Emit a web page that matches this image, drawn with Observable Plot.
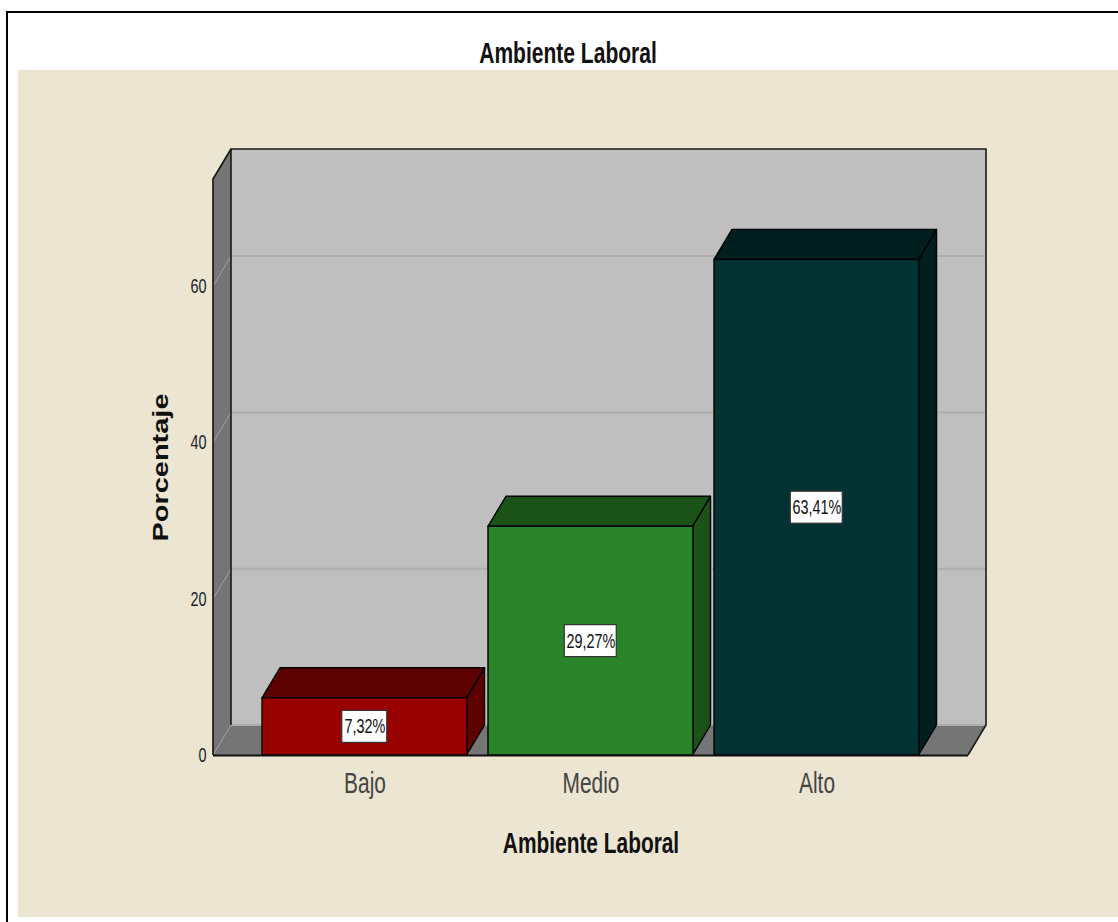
<!DOCTYPE html>
<html lang="es">
<head>
<meta charset="utf-8">
<title>Ambiente Laboral</title>
<script src="https://cdn.jsdelivr.net/npm/d3@7"></script>
<script src="https://cdn.jsdelivr.net/npm/@observablehq/plot@0.6"></script>
<style>
  html, body { margin: 0; padding: 0; background: #fff; }
  #page { position: relative; width: 1118px; height: 922px; overflow: hidden; }
  #rule { position: absolute; left: 6px; top: 11px; right: 0; bottom: 0; border-left: 2px solid #000; border-top: 2px solid #000; }
  #panel { position: absolute; left: 18px; top: 70px; right: 0; height: 847px; background: #ebe5d1; }
  #heading { position: absolute; left: 18px; right: 0; top: 36px; text-align: center; margin: 0;
    font: bold 29px "Liberation Sans", sans-serif; color: #111; line-height: 34px;
    transform: scaleX(0.725); transform-origin: center; }
  #chart { position: absolute; left: 0; top: 0; }
  #chart svg { background: transparent; }
</style>
</head>
<body>
<div id="page">
  <div id="rule"></div>
  <div id="panel"></div>
  <h1 id="heading">Ambiente Laboral</h1>
  <div id="chart"></div>
</div>
<script>
// Percentage of respondents per level of workplace climate
const levels = ["Bajo", "Medio", "Alto"];
const percentages = [7.32, 29.27, 63.41];
const frontColors = ["#990000", "#2a852a", "#033233"];
const shadeColors = ["#5c0000", "#1a5218", "#011f1e"];
const yTicks = [0, 20, 40, 60];
const yMaximum = 73.7;
const axisTitleX = "Ambiente Laboral";
const axisTitleY = "Porcentaje";

// Oblique projection offset of the chart's depth axis, in pixels
const depthX = 18;
const depthY = -30;

// Band layout of the x scale
const paddingInner = 0.095;
const paddingOuter = 0.214;

// Horizontal squeeze of the condensed labels, and the stretched length of the y title
const condensed = 0.72;
const yTitleLength = 148;

const rows = levels.map((level, i) => ({
  level,
  value: percentages[i],
  front: frontColors[i],
  shade: shadeColors[i],
  label: percentages[i].toFixed(2).replace(".", ",") + "%"
}));

const polygon = (parent, points, fill, stroke, strokeWidth) =>
  parent.append("polygon")
    .attr("points", points.map((p) => p.join(",")).join(" "))
    .attr("fill", fill)
    .attr("stroke", stroke)
    .attr("stroke-width", strokeWidth)
    .attr("stroke-linejoin", "round");

const bandwidth = (x) => (x(levels[1]) - x(levels[0])) * (1 - paddingInner);

// Left wall, floor and back wall of the box, with gridlines on the walls
function chartBox(index, {y}, values, {width, marginLeft, marginRight}) {
  const g = d3.create("svg:g");
  const left = marginLeft;
  const right = width - marginRight;
  const base = y(0);
  const top = y(yMaximum);
  polygon(g, [[left + depthX, base + depthY], [right + depthX, base + depthY], [right + depthX, top + depthY], [left + depthX, top + depthY]], "#bfbfbf", "none", 0);
  polygon(g, [[left, base], [left + depthX, base + depthY], [left + depthX, top + depthY], [left, top]], "#757575", "none", 0);
  polygon(g, [[left, base], [right, base], [right + depthX, base + depthY], [left + depthX, base + depthY]], "#757575", "none", 0);
  for (const t of yTicks) {
    g.append("path")
      .attr("d", d3.line()([[left, y(t)], [left + depthX, y(t) + depthY]]))
      .attr("stroke", "#a0a0a0").attr("fill", "none").attr("stroke-width", 1);
    g.append("path")
      .attr("d", d3.line()([[left + depthX, y(t) + depthY], [right + depthX, y(t) + depthY]]))
      .attr("stroke", "#adadad").attr("fill", "none").attr("stroke-width", 2);
  }
  g.append("path")
    .attr("d", d3.line()([[left + depthX, base + depthY], [left + depthX, top + depthY], [right + depthX, top + depthY], [right + depthX, base + depthY], [right, base]]))
    .attr("stroke", "#1a1a1a").attr("fill", "none").attr("stroke-width", 1.6);
  g.append("path")
    .attr("d", d3.line()([[left, base], [left, top], [left + depthX, top + depthY]]))
    .attr("stroke", "#111").attr("fill", "none").attr("stroke-width", 1.6);
  return g.node();
}

// Top and right faces of each bar
function barDepth(index, {x, y}) {
  const g = d3.create("svg:g");
  const w = bandwidth(x);
  for (const row of rows) {
    const x0 = x(row.level);
    const x1 = x0 + w;
    const yBase = y(0);
    const yTop = y(row.value);
    polygon(g, [[x1, yTop], [x1 + depthX, yTop + depthY], [x1 + depthX, yBase + depthY], [x1, yBase]], row.shade, "#000", 1.4);
    polygon(g, [[x0, yTop], [x0 + depthX, yTop + depthY], [x1 + depthX, yTop + depthY], [x1, yTop]], row.shade, "#000", 1.4);
  }
  return g.node();
}

// White boxes behind the value labels, sized from the label length
function labelBoxes(index, {x, y}) {
  const g = d3.create("svg:g");
  const w = bandwidth(x);
  for (const row of rows) {
    const boxWidth = row.label.length * 7 + 10;
    g.append("rect")
      .attr("x", x(row.level) + w / 2 - boxWidth / 2)
      .attr("y", y(row.value / 2) - 16)
      .attr("width", boxWidth)
      .attr("height", 32)
      .attr("fill", "#fff")
      .attr("stroke", "#333")
      .attr("stroke-width", 1.2);
  }
  return g.node();
}

const chart = Plot.plot({
  width: 1118,
  height: 922,
  marginLeft: 213,
  marginRight: 150,
  marginTop: 179,
  marginBottom: 167,
  style: {background: "transparent", fontFamily: `"Liberation Sans", sans-serif`},
  x: {domain: levels, paddingInner, paddingOuter, axis: null},
  y: {domain: [0, yMaximum], axis: null},
  marks: [
    chartBox,
    barDepth,
    Plot.barY(rows, {x: "level", y: "value", fill: "front", stroke: "#000", strokeWidth: 1.4}),
    Plot.ruleY([0], {stroke: "#111", strokeWidth: 2}),
    labelBoxes,
    Plot.text(rows, {
      x: "level",
      y: (d) => d.value / 2,
      text: "label",
      fontSize: 20,
      fill: "#111"
    }),
    Plot.axisY(yTicks, {
      anchor: "left",
      tickSize: 0,
      tickPadding: 7,
      label: null,
      fontSize: 20,
      fill: "#222"
    }),
    Plot.axisX(levels, {
      anchor: "bottom",
      tickSize: 0,
      tickPadding: 17,
      label: null,
      fontSize: 29,
      fill: "#444"
    }),
    Plot.text([axisTitleX], {
      frameAnchor: "bottom",
      lineAnchor: "middle",
      dy: 88.7,
      fontSize: 29,
      fontWeight: "bold",
      fill: "#111"
    }),
    Plot.text([axisTitleY], {
      frameAnchor: "left",
      textAnchor: "middle",
      lineAnchor: "middle",
      dx: -52.5,
      rotate: -90,
      fontSize: 22,
      fontWeight: "bold",
      fill: "#111"
    })
  ]
});

document.getElementById("chart").append(chart);

// The chart's type is condensed, apart from the widely set y title
for (const node of chart.querySelectorAll("text")) {
  const target = node.textContent === axisTitleY ? yTitleLength : node.getComputedTextLength() * condensed;
  node.setAttribute("lengthAdjust", "spacingAndGlyphs");
  node.setAttribute("textLength", target);
}
</script>
</body>
</html>
